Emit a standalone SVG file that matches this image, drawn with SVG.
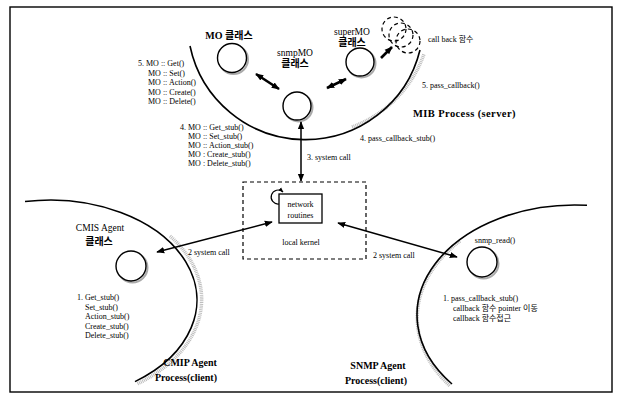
<svg xmlns="http://www.w3.org/2000/svg" width="618" height="400" viewBox="0 0 618 400">
<style>
.t{font-family:"Liberation Serif","Noto Sans CJK KR",serif;font-size:8px;fill:#000}
.h{font-family:"Liberation Serif","Noto Sans CJK KR",serif;font-size:10px;font-weight:bold;fill:#000}
.r{font-family:"Liberation Serif","Noto Sans CJK KR",serif;font-size:9.5px;fill:#000}
.b{font-family:"Liberation Serif","Noto Sans CJK KR",serif;font-size:10.5px;font-weight:bold;fill:#000;letter-spacing:0.4px}
.c{fill:#fff;stroke:#000;stroke-width:1.4}
.sh{fill:none;stroke:#aaa;stroke-width:2}
.arc{fill:none;stroke:#000;stroke-width:1.6}
.arcsh{fill:none;stroke:#bdbdbd;stroke-width:3.5;stroke-dasharray:1 0.8}
.ln{fill:none;stroke:#000;stroke-width:1.5}
.thick{fill:none;stroke:#000;stroke-width:2.6}
.dash{fill:none;stroke:#000;stroke-width:1.2;stroke-dasharray:4 3}
</style>
<defs>
<marker id="ah" viewBox="0 0 10 10" refX="9" refY="5" markerWidth="8" markerHeight="8" markerUnits="userSpaceOnUse" orient="auto-start-reverse"><path d="M0,1 L10,5 L0,9 z" fill="#000"/></marker>
<marker id="ahs" viewBox="0 0 10 10" refX="9" refY="5" markerWidth="5" markerHeight="5" markerUnits="userSpaceOnUse" orient="auto-start-reverse"><path d="M0,1 L10,5 L0,9 z" fill="#000"/></marker>
</defs>
<rect width="618" height="400" fill="#fff"/>
<rect x="10" y="7" width="602" height="385" fill="none" stroke="#000" stroke-width="1.4"/>

<!-- process boundaries -->
<g id="mib-process">
<path class="arcsh" d="M 352 127 A 120 120 0 0 0 424 54"/>
<path class="arc" d="M 190 46 A 118 118 0 0 0 420 50"/>
<text class="b" x="413" y="117">MIB Process (server)</text>
</g>
<g id="cmip-process">
<path class="arcsh" d="M 170 236 A 150 103 0 0 1 137 384"/>
<path class="arc" d="M 25 201.5 A 147 100 0 0 1 135 381.6"/>
<text class="h" x="190" y="366" text-anchor="middle">CMIP Agent</text>
<text class="h" x="186" y="381" text-anchor="middle">Process(client)</text>
</g>
<g id="snmp-process">
<path class="arcsh" d="M 460 241 A 161 113 0 0 0 450 386"/>
<path class="arc" d="M 587 205.3 A 158 110 0 0 0 452 384"/>
<text class="h" x="378" y="369" text-anchor="middle">SNMP Agent</text>
<text class="h" x="376" y="384" text-anchor="middle">Process(client)</text>
</g>

<!-- nodes -->
<g id="mo-class">
<circle class="sh" cx="233.5" cy="59.5" r="14.5"/>
<circle class="c" cx="232" cy="58" r="14.5"/>
<text class="h" x="229" y="39" text-anchor="middle">MO 클래스</text>
</g>
<g id="snmpmo-class">
<circle class="sh" cx="298.5" cy="107.5" r="14"/>
<circle class="c" cx="297" cy="106" r="14"/>
<text class="r" x="295" y="56" text-anchor="middle">snmpMO</text>
<text class="h" x="295" y="67" text-anchor="middle">클래스</text>
</g>
<g id="supermo-class">
<circle class="sh" cx="361.5" cy="63.5" r="14"/>
<circle class="c" cx="360" cy="62" r="14"/>
<text class="r" x="352" y="35" text-anchor="middle">superMO</text>
<text class="h" x="352" y="46" text-anchor="middle">클래스</text>
</g>
<g id="callback">
<circle class="dash" cx="394" cy="29" r="12"/>
<circle class="dash" cx="401" cy="35" r="12" fill="#fff"/>
<circle class="dash" cx="408" cy="41" r="12" fill="#fff"/>
<text class="t" x="428" y="42">call back 함수</text>
</g>
<g id="local-kernel">
<rect class="dash" x="243" y="182" width="123" height="77"/>
<rect x="279" y="194" width="43" height="29" fill="#fff" stroke="#000" stroke-width="1.3"/>
<text class="t" x="300.5" y="207" text-anchor="middle" font-size="8.5">network</text>
<text class="t" x="300.5" y="218" text-anchor="middle" font-size="8.5">routines</text>
<path d="M 279 204 A 7 7 0 1 1 283 192" fill="none" stroke="#000" stroke-width="1.2" marker-end="url(#ahs)"/>
<text class="t" x="301" y="245" text-anchor="middle" font-size="8.5">local kernel</text>
</g>
<g id="cmis-agent">
<circle class="sh" cx="132.5" cy="267.5" r="15"/>
<circle class="c" cx="131" cy="266" r="15"/>
<text class="r" x="100" y="231" text-anchor="middle">CMIS Agent</text>
<text class="h" x="99" y="245" text-anchor="middle" font-size="9.5">클래스</text>
</g>
<g id="snmp-read">
<circle class="sh" cx="483.5" cy="263.5" r="15"/>
<circle class="c" cx="482" cy="262" r="15"/>
<text class="t" x="495" y="243" text-anchor="middle">snmp_read()</text>
</g>

<!-- text blocks -->
<g id="labels">
<text class="t" x="138" y="66">5. MO :: Get()</text>
<text class="t" x="148" y="75.5">MO :: Set()</text>
<text class="t" x="148" y="85">MO :: Action()</text>
<text class="t" x="148" y="94.5">MO :: Create()</text>
<text class="t" x="148" y="104">MO :: Delete()</text>

<text class="t" x="180" y="130">4. MO :: Get_stub()</text>
<text class="t" x="188" y="139">MO :: Set_stub()</text>
<text class="t" x="188" y="148">MO :: Action_stub()</text>
<text class="t" x="188" y="157">MO : Create_stub()</text>
<text class="t" x="188" y="166">MO : Delete_stub()</text>

<text class="t" x="422" y="88">5. pass_callback()</text>
<text class="t" x="360" y="141">4. pass_callback_stub()</text>
<text class="t" x="307" y="160">3. system call</text>
<text class="t" x="188" y="255">2 system call</text>
<text class="t" x="373" y="258">2 system call</text>

<text class="t" x="77" y="300">1. Get_stub()</text>
<text class="t" x="85" y="309.5">Set_stub()</text>
<text class="t" x="85" y="319">Action_stub()</text>
<text class="t" x="85" y="328.5">Create_stub()</text>
<text class="t" x="85" y="338">Delete_stub()</text>

<text class="t" x="443" y="301">1. pass_callback_stub()</text>
<text class="t" x="453" y="311">callback 함수 pointer 이동</text>
<text class="t" x="453" y="320.5">callback 함수접근</text>
</g>

<!-- connectors -->
<g id="connectors">
<line class="thick" x1="256" y1="74" x2="279" y2="89" marker-start="url(#ah)" marker-end="url(#ah)"/>
<line class="thick" x1="327" y1="88" x2="346" y2="79" marker-start="url(#ah)" marker-end="url(#ah)"/>
<line class="thick" x1="381" y1="58" x2="392" y2="47" marker-end="url(#ah)"/>
<line class="ln" x1="301" y1="122" x2="301" y2="181" marker-start="url(#ah)" marker-end="url(#ah)"/>
<line class="ln" x1="272" y1="222" x2="157" y2="252" marker-start="url(#ah)" marker-end="url(#ah)"/>
<line class="ln" x1="338" y1="223" x2="457" y2="257" marker-start="url(#ah)" marker-end="url(#ah)"/>
</g>
</svg>
